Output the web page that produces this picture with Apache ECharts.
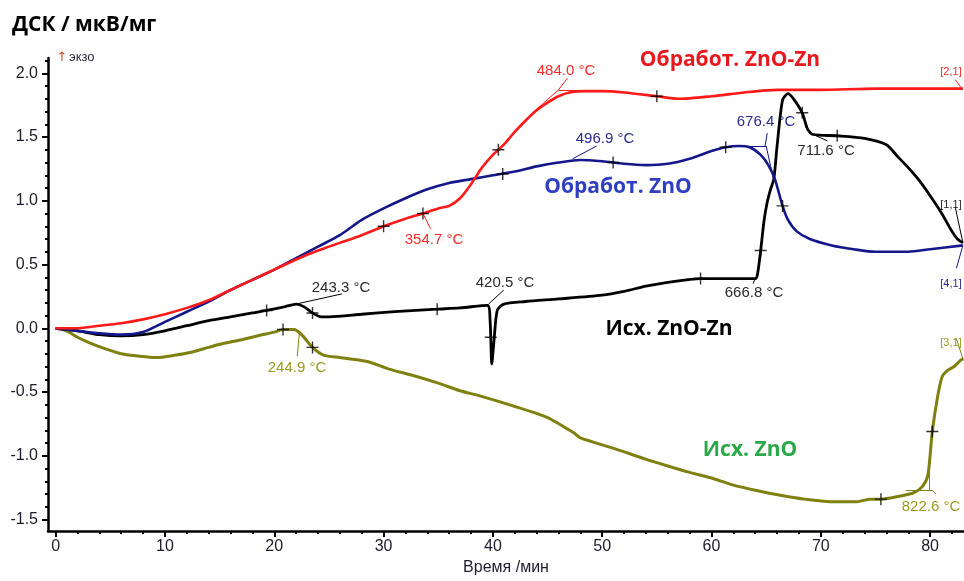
<!DOCTYPE html>
<html><head><meta charset="utf-8">
<script src="https://cdn.jsdelivr.net/npm/echarts@6/dist/echarts.min.js"></script>
<style>html,body{margin:0;padding:0;background:#fff}#c{width:964px;height:581px}</style>
</head><body><div id="c"></div>
<script>
// ---- data (time /min, DSC µV/mg) ----
const redCurve = [[0,0],[2,0.0],[4,0.02],[6,0.04],[8,0.07],[10,0.11],[12,0.16],[14,0.22],[16,0.30],[18,0.38],[20,0.46],[22,0.54],[24,0.61],[26,0.67],[28,0.73],[30,0.80],[32,0.86],[33.6,0.90],[35,0.94],[36,0.96],[37,1.02],[38,1.13],[39,1.26],[40,1.36],[41,1.44],[42,1.54],[43,1.63],[44,1.71],[45,1.77],[46,1.82],[47,1.85],[48.5,1.86],[50,1.86],[52,1.85],[55,1.82],[57,1.80],[60,1.82],[63,1.85],[66,1.87],[70,1.87],[75,1.88],[80,1.88],[83,1.88]];
const blueCurve = [[0,0],[2,-0.02],[4,-0.04],[6,-0.05],[8,-0.03],[10,0.05],[12,0.13],[14,0.21],[16,0.30],[18,0.38],[20,0.46],[22,0.55],[24,0.64],[26,0.73],[28,0.85],[30,0.94],[32,1.02],[34,1.09],[36,1.14],[38,1.17],[40,1.20],[42,1.23],[44,1.27],[46,1.30],[48,1.32],[50,1.31],[52,1.29],[54,1.28],[56,1.29],[58,1.33],[60,1.39],[61.3,1.42],[62.5,1.43],[63.5,1.42],[64.5,1.36],[65.2,1.28],[65.8,1.17],[66.5,0.96],[67,0.85],[67.8,0.76],[69,0.70],[71,0.65],[73,0.62],[75,0.60],[78,0.60],[80,0.62],[83,0.65]];
const blackCurve = [[0,0],[2,-0.02],[4,-0.05],[6,-0.06],[8,-0.05],[10,-0.02],[12,0.02],[14,0.06],[16,0.09],[18,0.12],[19.3,0.14],[21,0.17],[22,0.19],[22.7,0.17],[23.5,0.12],[24.3,0.09],[25,0.09],[28,0.11],[31,0.13],[34.9,0.15],[37,0.16],[39.5,0.18],[39.75,0.05],[39.9,-0.28],[40.1,-0.10],[40.4,0.14],[41,0.19],[43,0.21],[46,0.23],[50,0.26],[52,0.29],[54,0.33],[56,0.36],[59,0.39],[62,0.39],[64,0.39],[64.2,0.42],[64.5,0.61],[64.8,0.84],[65.1,0.99],[65.4,1.09],[65.7,1.17],[66.0,1.43],[66.5,1.79],[67,1.84],[67.5,1.80],[68.3,1.69],[68.8,1.56],[69.3,1.52],[71.5,1.51],[74,1.49],[76,1.44],[77,1.35],[78,1.26],[79,1.16],[80,1.04],[81,0.91],[82,0.76],[82.5,0.70],[83,0.67]];
const oliveCurve = [[0,0],[1,-0.02],[2,-0.07],[3,-0.11],[4.5,-0.16],[6,-0.20],[7.7,-0.22],[9.2,-0.23],[11,-0.21],[12.3,-0.19],[14,-0.15],[15.3,-0.12],[17,-0.09],[18.4,-0.06],[20,-0.03],[20.8,-0.01],[21.8,-0.01],[22.5,-0.05],[23.5,-0.15],[24.5,-0.21],[26,-0.23],[28.5,-0.26],[30.5,-0.32],[32.7,-0.37],[35,-0.43],[37,-0.49],[38.8,-0.53],[41.9,-0.61],[45,-0.70],[47.4,-0.82],[48,-0.86],[51,-0.94],[54.1,-1.03],[56,-1.08],[58,-1.13],[60.2,-1.18],[62,-1.23],[64,-1.27],[66.3,-1.31],[68.5,-1.34],[70.9,-1.36],[73.3,-1.36],[74.5,-1.34],[75.5,-1.34],[77,-1.32],[78.5,-1.29],[79.3,-1.24],[79.8,-1.15],[80.2,-0.81],[80.7,-0.53],[81.1,-0.38],[81.6,-0.33],[82.2,-0.30],[82.8,-0.25],[83.05,-0.24]];

const redMarks = [[30,0.80],[33.6,0.90],[40.5,1.40],[55,1.82]];
const blueMarks = [[40.9,1.21],[51,1.30],[61.3,1.42],[66.5,0.96]];
const blackMarks = [[19.3,0.14],[23.5,0.12],[34.9,0.15],[39.8,-0.07],[59,0.39],[64.5,0.61],[68.3,1.69],[71.5,1.51]];
const oliveMarks = [[20.8,-0.01],[23.5,-0.15],[75.5,-1.34],[80.2,-0.81]];

const xMajorTicks = [0,10,20,30,40,50,60,70,80];
const xMinorTicks = [0,2,4,6,8,10,12,14,16,18,20,22,24,26,28,30,32,34,36,38,40,42,44,46,48,50,52,54,56,58,60,62,64,66,68,70,72,74,76,78,80,82];
const yMajorTicks = [-1.5,-1.0,-0.5,0.0,0.5,1.0,1.5,2.0];
const yMinorTicks = [-1.5,-1.4,-1.3,-1.2,-1.1,-1.0,-0.9,-0.8,-0.7,-0.6,-0.5,-0.4,-0.3,-0.2,-0.1,0,0.1,0.2,0.3,0.4,0.5,0.6,0.7,0.8,0.9,1.0,1.1,1.2,1.3,1.4,1.5,1.6,1.7,1.8,1.9,2.0,2.1];

// leader lines (data coords)
const redLeaders = [[[46.0,1.87],[46.8,1.96]],[[43.5,1.68],[46.0,1.87]],[[46.0,1.865],[48.5,1.865]],[[33.6,0.90],[34.3,0.78]],[[82.9,1.88],[82.3,1.95]]];
const blueLeaders = [[[47.3,1.33],[49.5,1.43]],[[62.5,1.43],[65.0,1.43]],[[65.0,1.43],[65.7,1.16]],[[64.9,1.43],[65.1,1.53]],[[83,0.65],[82.4,0.47]]];
const blackLeaders = [[[22.0,0.19],[26.2,0.27]],[[39.6,0.19],[41.0,0.30]],[[64.0,0.39],[63.8,0.35]],[[69.3,1.52],[70.6,1.47]],[[83,0.67],[82.3,0.95]]];
const oliveLeaders = [[[22.3,-0.03],[22.1,-0.22]],[[79.9,-1.10],[79.9,-1.27]],[[77.8,-1.27],[80.2,-1.27]],[[80.2,-1.27],[80.5,-1.30]],[[83,-0.24],[82.4,-0.08]]];

const C = {red:'#ff1a1a', blue:'#14178a', black:'#000000', olive:'#808010'};
const plus = 'path://M5.3,0h1.4v12h-1.4zM0,5.3h12v1.4h-12z';

function curve(name, data, color, width, leaders) {
  return {
    name, type:'line', data, showSymbol:false, smooth:0.25, z:3,
    lineStyle:{color, width}, itemStyle:{color}, silent:true, animation:false,
    markLine:{silent:true, symbol:['none','none'], animation:false, label:{show:false},
      lineStyle:{color, width:1, type:'solid'},
      data: leaders.map(s => [{coord:s[0]},{coord:s[1]}])}
  };
}
function marks(data) {
  return {type:'scatter', data, symbol:plus, symbolSize:12, z:5, silent:true, animation:false,
    itemStyle:{color:'#000'}};
}
function txt(x, y, text, color, font, align) {
  return {type:'text', x, y, silent:true, style:{text, fill:color, font, textAlign:align||'center', textVerticalAlign:'middle'}};
}

const chart = echarts.init(document.getElementById('c'), null, {renderer:'canvas'});
const axisFont = {fontFamily:'Liberation Sans, Arial, sans-serif', fontSize:16, color:'#1c1c2c'};
const ann = '15px "Liberation Sans", Arial, sans-serif';
const small = '11px "Liberation Sans", Arial, sans-serif';
const big = 'bold 21px "Open Sans", "Noto Sans", sans-serif';

chart.setOption({
  animation:false,
  grid:{left:48, right:0, top:58, bottom:45},
  xAxis:[{
    type:'value', min:-0.7, max:83.1, position:'bottom',
    name:'Время /мин', nameLocation:'middle', nameGap:29,
    nameTextStyle:{fontFamily:'Liberation Sans, Arial, sans-serif', fontSize:16, color:'#1c1c2c'},
    axisLine:{show:true, onZero:false, lineStyle:{color:'#000', width:2.5}},
    axisTick:{show:true, customValues:xMajorTicks, length:6, lineStyle:{color:'#000', width:2}},
    axisLabel:Object.assign({customValues:xMajorTicks, margin:8}, axisFont),
    splitLine:{show:false}
  },{
    type:'value', min:-0.7, max:83.1, position:'bottom',
    axisLine:{show:false, onZero:false},
    axisTick:{show:true, customValues:xMinorTicks, length:3, lineStyle:{color:'#000', width:2}},
    axisLabel:{show:false}, splitLine:{show:false}
  }],
  yAxis:[{
    type:'value', min:-1.59, max:2.12, position:'left',
    axisLine:{show:true, onZero:false, lineStyle:{color:'#000', width:2.5}},
    axisTick:{show:true, customValues:yMajorTicks, length:6, lineStyle:{color:'#000', width:2}},
    axisLabel:Object.assign({customValues:yMajorTicks, margin:10, formatter:v=>v.toFixed(1)}, axisFont),
    splitLine:{show:false}
  },{
    type:'value', min:-1.59, max:2.12, position:'left',
    axisLine:{show:false, onZero:false},
    axisTick:{show:true, customValues:yMinorTicks, length:3, lineStyle:{color:'#000', width:2}},
    axisLabel:{show:false}, splitLine:{show:false}
  }],
  series:[
    curve('Исх. ZnO', oliveCurve, C.olive, 3, oliveLeaders),
    curve('Исх. ZnO-Zn', blackCurve, C.black, 2.8, blackLeaders),
    curve('Обработ. ZnO', blueCurve, C.blue, 2.6, blueLeaders),
    curve('Обработ. ZnO-Zn', redCurve, C.red, 2.6, redLeaders),
    marks(redMarks), marks(blueMarks), marks(blackMarks), marks(oliveMarks)
  ],
  graphic:[
    txt(12, 25, 'ДСК / мкВ/мг', '#000', 'bold 21px "Open Sans", "Noto Sans", sans-serif', 'left'),
    txt(62, 58, '↑', '#c0502a', '13px "DejaVu Sans", sans-serif', 'center'),
    txt(69, 57, 'экзо', '#2a2a3a', '13px "Liberation Sans", Arial, sans-serif', 'left'),
    txt(730, 60, 'Обработ. ZnO-Zn', '#e8191e', big),
    txt(618, 187, 'Обработ. ZnO', '#2f3fc2', big),
    txt(669, 329, 'Исх. ZnO-Zn', '#000', big),
    txt(750, 450, 'Исх. ZnO', '#2aa84a', big),
    txt(566, 71, '484.0 °C', '#ff2a2a', ann),
    txt(434, 240, '354.7 °C', '#ff2a2a', ann),
    txt(605, 139, '496.9 °C', '#2a2a90', ann),
    txt(766, 122, '676.4 °C', '#2a2a90', ann),
    txt(826, 151, '711.6 °C', '#2a2a2a', ann),
    txt(341, 288, '243.3 °C', '#2a2a2a', ann),
    txt(505, 283, '420.5 °C', '#2a2a2a', ann),
    txt(754, 293, '666.8 °C', '#2a2a2a', ann),
    txt(297, 368, '244.9 °C', '#9a9a20', ann),
    txt(931, 507, '822.6 °C', '#9a9a20', ann),
    txt(951, 72, '[2,1]', '#ff2a2a', small),
    txt(951, 205, '[1,1]', '#2a2a2a', small),
    txt(951, 284, '[4,1]', '#2a2a90', small),
    txt(951, 343, '[3,1]', '#9a9a20', small)
  ]
});
</script></body></html>
